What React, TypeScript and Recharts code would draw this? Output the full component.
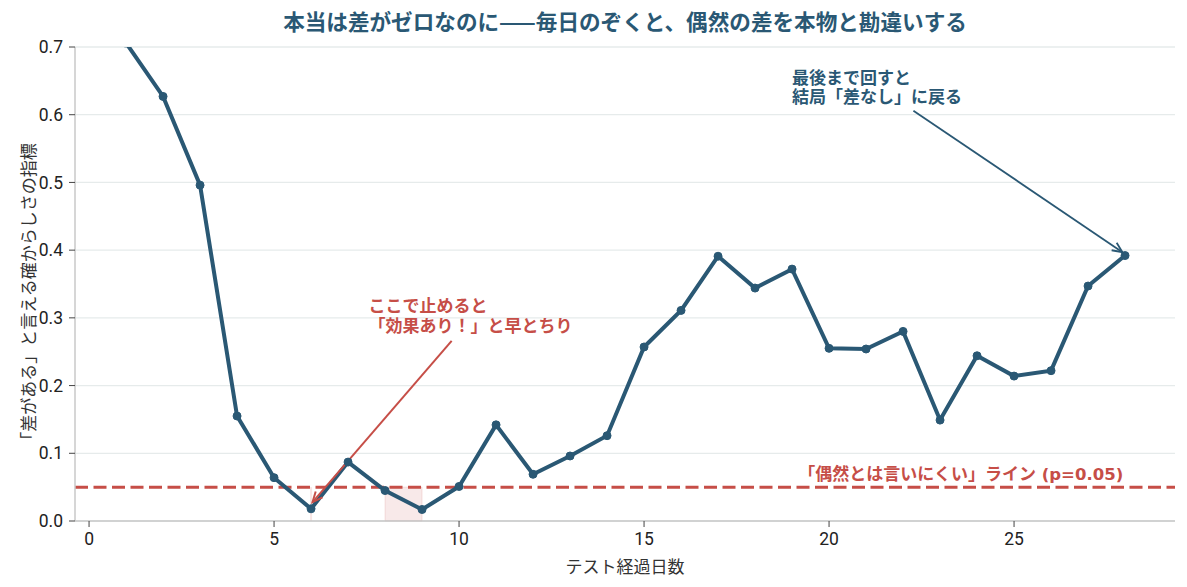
import React from 'react';
import {
  LineChart,
  Line,
  XAxis,
  YAxis,
  CartesianGrid,
  ReferenceLine,
  ReferenceArea,
  ReferenceDot,
} from 'recharts';

// ---- data ----
const days = [1, 2, 3, 4, 5, 6, 7, 8, 9, 10, 11, 12, 13, 14, 15, 16, 17, 18, 19, 20, 21, 22, 23, 24, 25, 26, 27, 28];
const pValues = [
  0.706, 0.627, 0.496, 0.155, 0.064, 0.018, 0.087, 0.045, 0.017, 0.051, 0.142, 0.069, 0.096, 0.126,
  0.257, 0.311, 0.391, 0.344, 0.372, 0.255, 0.254, 0.28, 0.149, 0.244, 0.214, 0.222, 0.347, 0.392,
];
const xTicks = [0, 5, 10, 15, 20, 25];
const yTicks = [0, 0.1, 0.2, 0.3, 0.4, 0.5, 0.6, 0.7];
const threshold = 0.05;
const loneSignificantDay = 6;
const significantSpan = [8, 9];

const titleText = '本当は差がゼロなのに——毎日のぞくと、偶然の差を本物と勘違いする';
const xLabel = 'テスト経過日数';
const yLabel = '「差がある」と言える確からしさの指標';
const earlyNoteLines = ['ここで止めると', '「効果あり！」と早とちり'];
const finalNoteLines = ['最後まで回すと', '結局「差なし」に戻る'];
const thresholdLabelMain = '「偶然とは言いにくい」ライン';
const thresholdLabelTail = ' (p=0.05)';

const data = days.map((d, i) => ({ day: d, p: pValues[i] }));

// ---- styling ----
const BLUE = '#2a5874';
const RED = '#c64e47';
const JP = '"Noto Sans CJK JP", "Noto Sans", sans-serif';
const NUM = 'Roboto, "Noto Sans", sans-serif';

const makeArrow = (color: string, width: number, head: number) => (props: any) => {
  const { x1, y1, x2, y2 } = props;
  const ang = Math.atan2(y2 - y1, x2 - x1);
  const a = 0.42;
  const h1x = x2 - head * Math.cos(ang - a);
  const h1y = y2 - head * Math.sin(ang - a);
  const h2x = x2 - head * Math.cos(ang + a);
  const h2y = y2 - head * Math.sin(ang + a);
  return (
    <g>
      <line x1={x1} y1={y1} x2={x2} y2={y2} stroke={color} strokeWidth={width} />
      <polyline
        points={`${h1x},${h1y} ${x2},${y2} ${h2x},${h2y}`}
        fill="none"
        stroke={color}
        strokeWidth={width}
        strokeLinejoin="miter"
      />
    </g>
  );
};

const makeNote = (lines: string[], color: string, gap: number) => (props: any) => (
  <g>
    {lines.map((l, i) => (
      <text
        key={i}
        x={props.cx}
        y={props.cy + i * gap}
        fill={color}
        fontSize={17}
        fontWeight={700}
        fontFamily={JP}
        textAnchor="start"
      >
        {l}
      </text>
    ))}
  </g>
);

const thresholdNote = (props: any) => (
  <text x={props.cx} y={props.cy} fill={RED} fontWeight={700} textAnchor="end" fontFamily={JP} fontSize={17}>
    <tspan>{thresholdLabelMain}</tspan>
    <tspan fontFamily='"DejaVu Sans", sans-serif' fontSize={16.5}>
      {thresholdLabelTail}
    </tspan>
  </text>
);

export default function App() {
  return (
    <div style={{ position: 'absolute', left: 0, top: 0, width: 1187, height: 587, background: '#fff' }}>
      <LineChart
        width={1187}
        height={587}
        data={data}
        margin={{ top: 47, right: 12, bottom: 0, left: 0 }}
      >
        <CartesianGrid vertical={false} stroke="#e6ebeb" strokeWidth={1.3} />
        <XAxis
          dataKey="day"
          type="number"
          domain={[-0.38, 29.35]}
          allowDataOverflow
          ticks={xTicks}
          interval={0}
          height={66}
          tickSize={6}
          tickMargin={6}
          axisLine={{ stroke: '#c9c9c9', strokeWidth: 1.5 }}
          tickLine={{ stroke: '#444', strokeWidth: 1 }}
          tick={{ fill: '#222', fontSize: 17.5, fontFamily: NUM }}
        />
        <YAxis
          type="number"
          domain={[0, 0.7]}
          allowDataOverflow
          ticks={yTicks}
          interval={0}
          width={75}
          tickSize={6}
          tickMargin={6}
          tickFormatter={(v: number) => v.toFixed(1)}
          axisLine={{ stroke: '#c9c9c9', strokeWidth: 1.5 }}
          tickLine={{ stroke: '#444', strokeWidth: 1 }}
          tick={{ fill: '#222', fontSize: 17.5, fontFamily: NUM }}
        />
        <ReferenceArea
          x1={significantSpan[0]}
          x2={significantSpan[1]}
          y1={0}
          y2={threshold}
          fill={RED}
          fillOpacity={0.12}
          stroke={RED}
          strokeOpacity={0.15}
          ifOverflow="visible"
        />
        <ReferenceLine
          segment={[
            { x: loneSignificantDay, y: 0 },
            { x: loneSignificantDay, y: threshold },
          ]}
          stroke={RED}
          strokeOpacity={0.15}
          strokeWidth={2}
          ifOverflow="visible"
        />
        <ReferenceLine
          y={threshold}
          stroke={RED}
          strokeWidth={3}
          strokeDasharray="13 5.5"
          ifOverflow="visible"
        />
        <Line
          dataKey="p"
          type="linear"
          stroke={BLUE}
          strokeWidth={4}
          dot={{ r: 4, fill: BLUE, stroke: BLUE, strokeWidth: 1 }}
          activeDot={false}
          isAnimationActive={false}
        />
        <ReferenceLine
          segment={[
            { x: 9.8, y: 0.266 },
            { x: 6.04, y: 0.028 },
          ]}
          ifOverflow="visible"
          shape={makeArrow(RED, 2, 11)}
        />
        <ReferenceLine
          segment={[
            { x: 22.28, y: 0.606 },
            { x: 27.93, y: 0.397 },
          ]}
          ifOverflow="visible"
          shape={makeArrow(BLUE, 1.8, 11)}
        />
        <ReferenceDot x={7.555} y={0.3087} r={1} ifOverflow="visible" shape={makeNote(earlyNoteLines, RED, 20)} />
        <ReferenceDot x={19.0} y={0.6454} r={1} ifOverflow="visible" shape={makeNote(finalNoteLines, BLUE, 19.5)} />
        <ReferenceDot x={27.95} y={0.0605} r={1} ifOverflow="visible" shape={thresholdNote} />
      </LineChart>
      <svg
        width={1187}
        height={587}
        style={{ position: 'absolute', left: 0, top: 0, pointerEvents: 'none' }}
      >
        <text x={625} y={29.5} textAnchor="middle" fill={BLUE} fontSize={21.6} fontWeight={700} fontFamily={JP}>
          {titleText}
        </text>
        <text x={625} y={572.5} textAnchor="middle" fill="#333" fontSize={17} fontFamily={JP}>
          {xLabel}
        </text>
        <text
          x={35}
          y={296}
          textAnchor="middle"
          fill="#333"
          fontSize={17}
          fontFamily={JP}
          transform="rotate(-90 35 296)"
        >
          {yLabel}
        </text>
      </svg>
    </div>
  );
}
